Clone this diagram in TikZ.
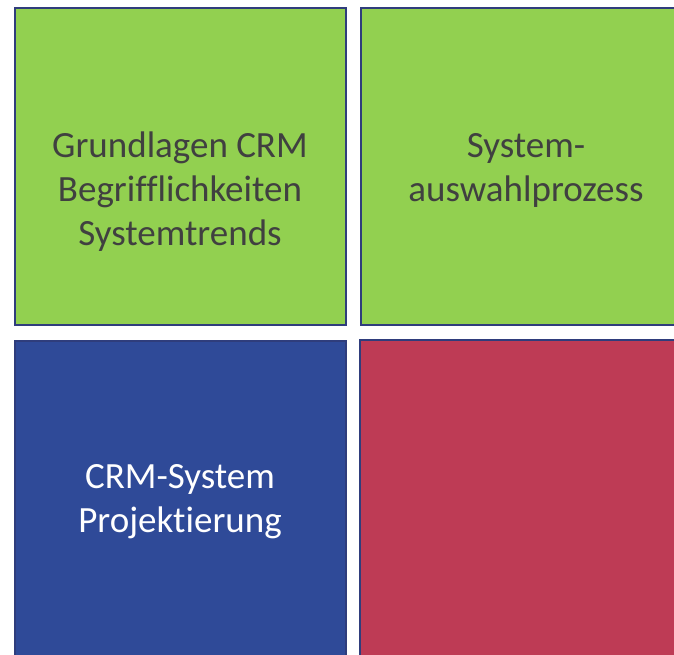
\documentclass[tikz,border=0pt]{standalone}
\usepackage{fontspec}
\setmainfont[Ligatures=NoCommon]{Carlito}
\definecolor{tilegreen}{HTML}{92D050}
\definecolor{tileblue}{HTML}{2F4A98}
\definecolor{tilered}{HTML}{BE3B55}
\definecolor{tileedge}{HTML}{2F3D7C}
\definecolor{tiletext}{HTML}{404040}
\tikzset{
  tile/.style={draw=tileedge, line width=2pt},
  % a multi-line node sits on the baseline of its last line
  tilelabel/.style={align=center, inner sep=0pt, anchor=base,
    font=\fontsize{37}{44}\selectfont}
}
\begin{document}
\begin{tikzpicture}[x=1pt, y=-1pt]
  \useasboundingbox (0,0) rectangle (674,654);
  \clip (0,0) rectangle (674,654);
  % four quadrant tiles
  \path[tile, fill=tilegreen] (14.5,7.5) rectangle (345.5,324.5);
  \path[tile, fill=tilegreen] (360.5,7.5) rectangle (690,324.5);
  \path[tile, fill=tileblue]  (14.5,340.5) rectangle (345.5,670);
  \path[tile, fill=tilered]   (359.5,339.5) rectangle (690,670);
  % tile captions
  \node[tilelabel, text=tiletext] (basics) at (180,245)
    {Grundlagen CRM\\Begrifflichkeiten\\Systemtrends};
  \node[tilelabel, text=tiletext] (selection) at (526,201)
    {System-\\auswahlprozess};
  \node[tilelabel, text=white] (project) at (180,532)
    {CRM-System\\Projektierung};
\end{tikzpicture}
\end{document}
